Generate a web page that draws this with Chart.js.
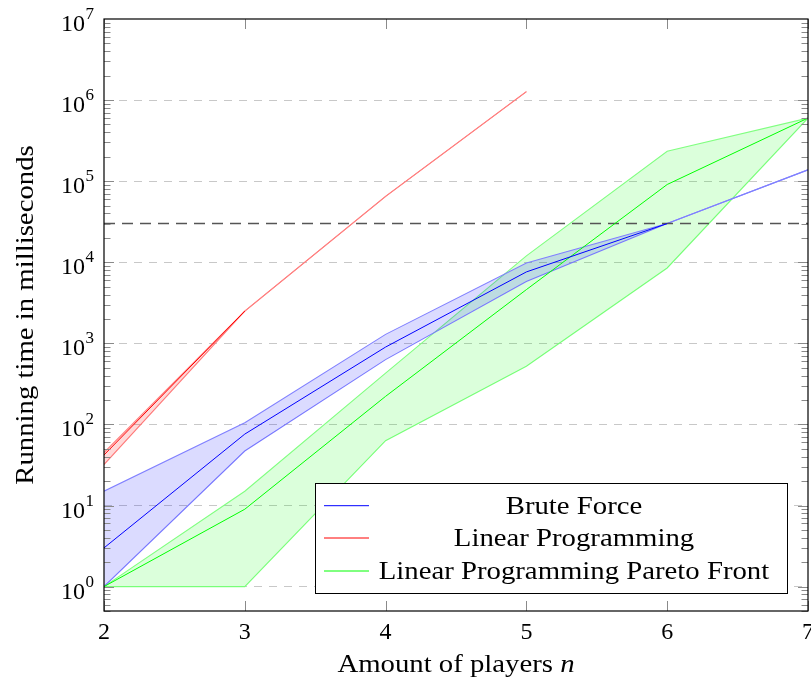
<!DOCTYPE html>
<html lang="en">
<head>
<meta charset="UTF-8" />
<title>Running time per number of players</title>
<script src="https://cdn.jsdelivr.net/npm/chart.js"></script>
<style>
  html, body { margin: 0; padding: 0; background: #fff; }
  #wrap { width: 811px; height: 681px; }
</style>
</head>
<body>
<div id="wrap"><canvas id="chart"></canvas></div>
<script>
  // values (milliseconds)
  const players = [2, 3, 4, 5, 6, 7];
  const bruteMean  = [3, 76, 900, 7600, 30000, null];
  const bruteUpper = [15, 105, 1290, 9800, 30000, 138000];
  const bruteLower = [1, 47, 630, 5800, 30000, 138000];
  const lpMean  = [42, 2500, null, null, null, null];
  const lpUpper = [45, 2500, 65000, 1270000, null, null];
  const lpLower = [32, 2500, 65000, 1270000, null, null];
  const paretoMean  = [1, 9, 222, 4600, 91000, 600000];
  const paretoUpper = [1, 15, 430, 12000, 234000, 600000];
  const paretoLower = [1, 1, 63, 523, 8500, 600000];
  const timeLimit = 30000;
  const xTicks = [2, 3, 4, 5, 6, 7];
  const yPowers = [0, 1, 2, 3, 4, 5, 6, 7];
  const seriesNames = ['Brute Force', 'Linear Programming', 'Linear Programming Pareto Front'];

  const FONT = '"Liberation Serif", "Times New Roman", serif';
  const WORD_FONT = '25px ' + FONT;
  const STRETCH = 1.15; // the original serif runs wider than Times

  function pts(ys) {
    return players.map((x, i) => ({ x: x, y: ys[i] }));
  }

  function line(label, data, color, extra) {
    return Object.assign({
      label: label,
      data: data,
      borderColor: color,
      borderWidth: 1,
      pointRadius: 0,
      tension: 0,
      fill: false
    }, extra || {});
  }

  const datasets = [
    line(seriesNames[0], pts(bruteMean), '#0000ff'),
    line(seriesNames[1], pts(lpMean), '#ff0000'),
    line(seriesNames[2], pts(paretoMean), '#00ff00'),
    line('limit', [{ x: players[0], y: timeLimit }, { x: players[players.length - 1], y: timeLimit }],
      '#555555', { borderWidth: 1.5, borderDash: [11, 7] }),
    line('bf upper', pts(bruteUpper), '#8080ff', { borderWidth: 1.1, fill: '+1', backgroundColor: 'rgba(0,0,255,0.14)' }),
    line('bf lower', pts(bruteLower), '#8080ff', { borderWidth: 1.1 }),
    line('lp upper', pts(lpUpper), '#ff8080', { borderWidth: 1.1, fill: '+1', backgroundColor: 'rgba(255,0,0,0.15)' }),
    line('lp lower', pts(lpLower), '#ff8080', { borderWidth: 1.1 }),
    line('pf upper', pts(paretoUpper), '#80ff80', { borderWidth: 1.1, fill: '+1', backgroundColor: 'rgba(0,255,0,0.14)' }),
    line('pf lower', pts(paretoLower), '#80ff80', { borderWidth: 1.1 })
  ];

  // text drawn a little wider; (x, y) is the anchor according to align
  function wideText(ctx, text, x, y, align) {
    ctx.save();
    ctx.font = WORD_FONT;
    const w = ctx.measureText(text).width * STRETCH;
    let left = x;
    if (align === 'center') left = x - w / 2;
    else if (align === 'right') left = x - w;
    ctx.translate(left, y);
    ctx.scale(STRETCH, 1);
    ctx.textAlign = 'left';
    ctx.fillText(text, 0, 0);
    ctx.restore();
    return w;
  }

  // frame, inward ticks, tick labels, axis titles and legend
  const decorations = {
    id: 'decorations',
    afterDraw(chart) {
      const { ctx, chartArea: a, scales: { x, y } } = chart;
      ctx.save();

      // tick marks
      ctx.strokeStyle = '#8a8a8a';
      ctx.lineWidth = 1;
      ctx.beginPath();
      for (let p = -1; p <= 6; p++) {
        for (let m = 1; m <= 9; m++) {
          const v = m * Math.pow(10, p);
          if (v < y.min || v > y.max) continue;
          const py = Math.round(y.getPixelForValue(v)) + 0.5;
          const len = m === 1 ? 10 : 6.5;
          ctx.moveTo(a.left, py); ctx.lineTo(a.left + len, py);
          ctx.moveTo(a.right, py); ctx.lineTo(a.right - len, py);
        }
      }
      xTicks.forEach(t => {
        const px = Math.round(x.getPixelForValue(t)) + 0.5;
        ctx.moveTo(px, a.bottom); ctx.lineTo(px, a.bottom - 10);
        ctx.moveTo(px, a.top); ctx.lineTo(px, a.top + 10);
      });
      ctx.stroke();

      // frame
      ctx.strokeStyle = '#000';
      ctx.lineWidth = 1.2;
      ctx.strokeRect(a.left, a.top, a.right - a.left, a.bottom - a.top);

      // x tick labels
      ctx.fillStyle = '#000';
      ctx.font = '24px ' + FONT;
      ctx.textAlign = 'center';
      ctx.textBaseline = 'alphabetic';
      xTicks.forEach(t => ctx.fillText(String(t), x.getPixelForValue(t), 639));

      // y tick labels 10^k
      yPowers.forEach(p => {
        const py = y.getPixelForValue(Math.pow(10, p));
        ctx.font = '17px ' + FONT;
        const we = ctx.measureText(String(p)).width;
        ctx.textAlign = 'right';
        ctx.fillText(String(p), 94, py);
        ctx.font = '24px ' + FONT;
        ctx.fillText('10', 94 - we - 0.5, py + 12);
      });

      // y title
      ctx.save();
      ctx.translate(33, (a.top + a.bottom) / 2);
      ctx.rotate(-Math.PI / 2);
      wideText(ctx, 'Running time in milliseconds', 0, 0, 'center');
      ctx.restore();

      // x title with italic n
      const main = 'Amount of players ';
      ctx.font = WORD_FONT;
      const w1 = ctx.measureText(main).width * STRETCH;
      ctx.font = 'italic ' + WORD_FONT;
      const w2 = ctx.measureText('n').width * STRETCH;
      const sx = (a.left + a.right) / 2 - (w1 + w2) / 2;
      wideText(ctx, main, sx, 672, 'left');
      ctx.save();
      ctx.translate(sx + w1, 672);
      ctx.scale(STRETCH, 1);
      ctx.font = 'italic ' + WORD_FONT;
      ctx.textAlign = 'left';
      ctx.fillText('n', 0, 0);
      ctx.restore();

      // legend
      const box = { l: 315.5, t: 483.5, r: 787.5, b: 593.5 };
      ctx.fillStyle = '#fff';
      ctx.fillRect(box.l, box.t, box.r - box.l, box.b - box.t);
      ctx.strokeStyle = '#000';
      ctx.lineWidth = 1;
      ctx.strokeRect(box.l, box.t, box.r - box.l, box.b - box.t);
      const rows = [505.7, 538, 571];
      rows.forEach((ry, i) => {
        const ds = chart.data.datasets[i];
        ctx.strokeStyle = ds.borderColor;
        ctx.lineWidth = 1;
        ctx.beginPath();
        ctx.moveTo(324, ry); ctx.lineTo(369, ry);
        ctx.stroke();
        ctx.fillStyle = '#000';
        wideText(ctx, ds.label, 574, ry + 8, 'center');
      });

      ctx.restore();
    }
  };

  new Chart(document.getElementById('chart').getContext('2d'), {
    type: 'line',
    data: { datasets: datasets },
    options: {
      responsive: true,
      maintainAspectRatio: false,
      animation: false,
      layout: { padding: { top: 19, right: 3, bottom: 0, left: 0 } },
      plugins: {
        legend: { display: false },
        tooltip: { enabled: false },
        filler: { propagate: false }
      },
      scales: {
        x: {
          type: 'linear',
          min: 2,
          max: 7,
          ticks: { display: false },
          grid: { display: false },
          border: { display: false },
          afterFit: s => { s.height = 70; }
        },
        y: {
          type: 'logarithmic',
          min: 0.5,
          max: 1e7,
          afterBuildTicks: s => {
            s.ticks = yPowers.slice(0, -1).map(p => ({ value: Math.pow(10, p) }));
          },
          ticks: { display: false },
          grid: { color: '#c8c8c8', lineWidth: 1, drawTicks: false },
          border: { display: false, dash: [8, 7] },
          afterFit: s => { s.width = 104; }
        }
      }
    },
    plugins: [decorations]
  });
</script>
</body>
</html>
